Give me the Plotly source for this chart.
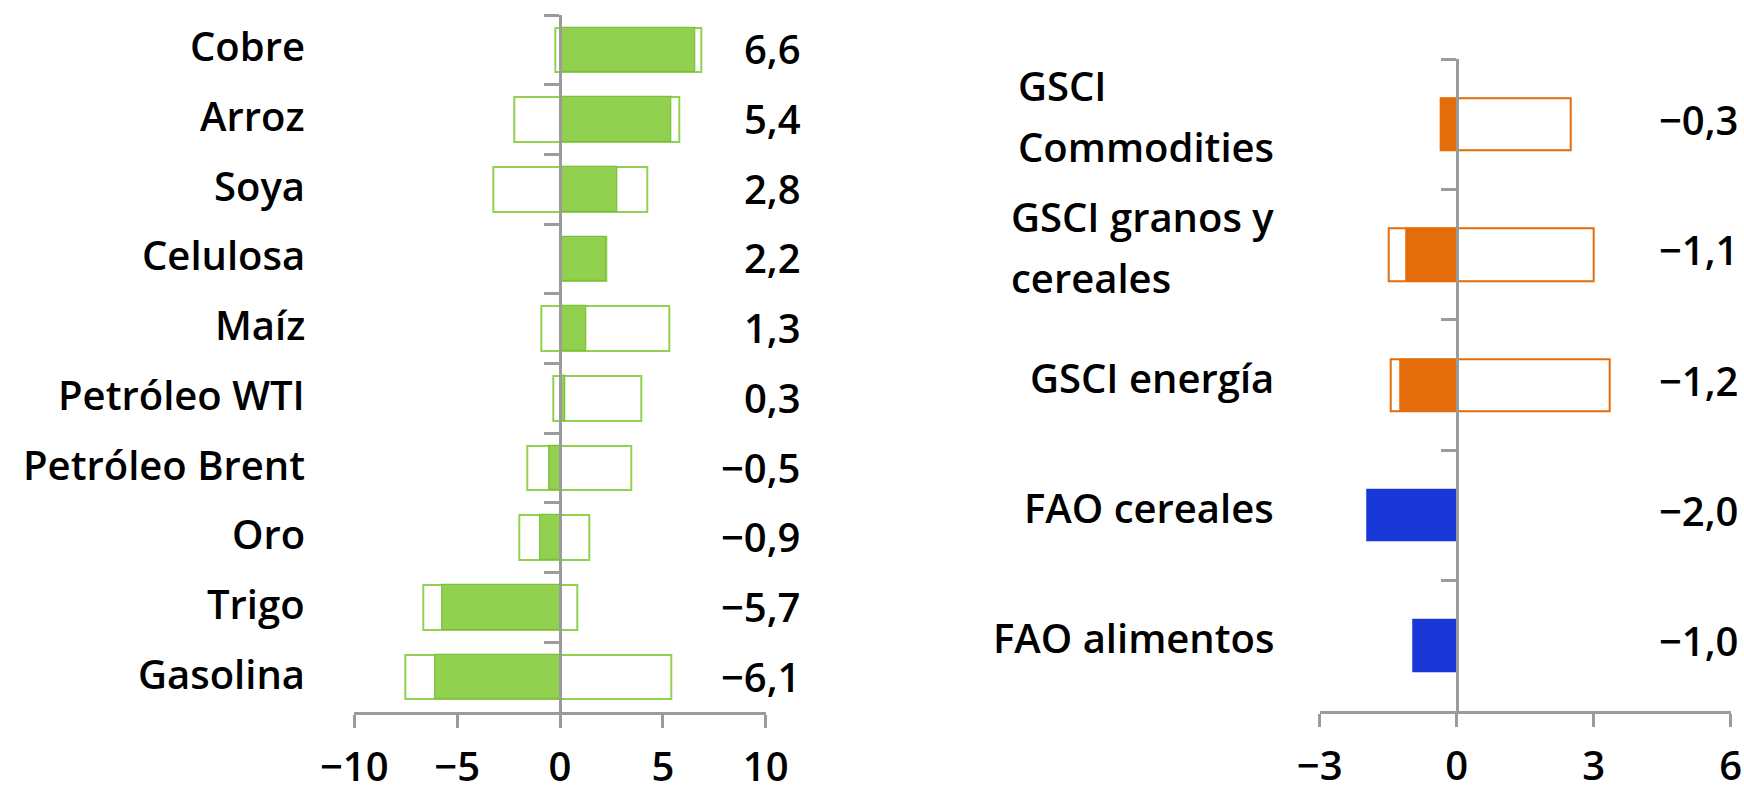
import plotly.graph_objects as go

# ---------------- data ----------------
left_categories = ["Cobre", "Arroz", "Soya", "Celulosa", "Maíz", "Petróleo WTI",
                   "Petróleo Brent", "Oro", "Trigo", "Gasolina"]
left_values = [6.6, 5.4, 2.8, 2.24, 1.27, 0.28, -0.53, -0.94, -5.74, -6.08]
left_min = [-0.25, -2.2, -3.25, 0.0, -0.9, -0.35, -1.6, -2.0, -6.65, -7.5]
left_max = [6.85, 5.8, 4.25, 2.24, 5.3, 3.95, 3.45, 1.4, 0.85, 5.4]
left_ticks = [-10, -5, 0, 5, 10]

right_categories = ["GSCI<br>Commodities", "GSCI granos y<br>cereales", "GSCI energía",
                    "FAO cereales", "FAO alimentos"]
right_values = [-0.34, -1.11, -1.24, -1.98, -0.97]
right_min = [-0.34, -1.5, -1.45, None, None]
right_max = [2.5, 3.0, 3.35, None, None]
right_groups = ["GSCI", "GSCI", "GSCI", "FAO", "FAO"]
right_ticks = [-3, 0, 3, 6]

GREEN = "#92D050"
GREEN_DARK = "#7CBF3E"
ORANGE = "#E46C0A"
BLUE = "#1A38D8"
AXIS = "#9B9B9B"
FONT = "Open Sans"
FS = 40

W, H = 1744, 792


def fmt(v):
    return f"{v:.1f}".replace(".", ",").replace("-", "\u2212")


fig = go.Figure()

lx_dom = [354.3 / W, 765.7 / W]
ly_dom = [(H - 712) / H, (H - 15) / H]
rx_dom = [1319.7 / W, 1730.7 / W]
ry_dom = [(H - 711) / H, (H - 59.3) / H]

fig.add_trace(go.Bar(
    y=left_categories,
    x=[mx - mn for mn, mx in zip(left_min, left_max)],
    base=left_min, orientation="h", width=0.64,
    marker=dict(color="white", line=dict(color=GREEN, width=2)),
    xaxis="x", yaxis="y", showlegend=False, hoverinfo="skip"))
fig.add_trace(go.Bar(
    y=left_categories, x=left_values, orientation="h", width=0.64,
    marker=dict(color=GREEN, line=dict(color=GREEN_DARK, width=1.2)),
    xaxis="x", yaxis="y", showlegend=False))

rcolors = [ORANGE if g == "GSCI" else BLUE for g in right_groups]
fig.add_trace(go.Bar(
    y=right_categories,
    x=[(mx - mn) if mn is not None else None for mn, mx in zip(right_min, right_max)],
    base=right_min, orientation="h", width=0.4,
    marker=dict(color="white", line=dict(color=rcolors, width=2)),
    xaxis="x2", yaxis="y2", showlegend=False, hoverinfo="skip"))
fig.add_trace(go.Bar(
    y=right_categories, x=right_values, orientation="h", width=0.4,
    marker=dict(color=rcolors, line=dict(color=rcolors, width=0.5)),
    xaxis="x2", yaxis="y2", showlegend=False))


def zero_pos(dom, rng):
    return dom[0] + (0 - rng[0]) / (rng[1] - rng[0]) * (dom[1] - dom[0])


lrng = [-10, 10]
rrng = [-3, 6]
line_common = dict(showline=True, linecolor=AXIS, linewidth=3, ticks="outside",
                   tickcolor=AXIS, tickwidth=3, showgrid=False, zeroline=False)
tickfont = dict(family=FONT, size=FS, color="black", weight=600)

fig.update_layout(
    width=W, height=H, margin=dict(l=0, r=0, t=0, b=0, autoexpand=False),
    paper_bgcolor="white", plot_bgcolor="rgba(0,0,0,0)",
    barmode="overlay", bargap=0,
    font=dict(family=FONT, size=FS, color="black"),
    xaxis=dict(domain=lx_dom, range=lrng, tickvals=left_ticks, ticklen=13,
               ticklabelstandoff=5, anchor="y", tickfont=tickfont, **line_common),
    yaxis=dict(domain=ly_dom, type="category", categoryorder="array",
               categoryarray=left_categories, range=[len(left_categories) - 0.5, -0.5],
               anchor="free", position=zero_pos(lx_dom, lrng), tickson="boundaries",
               ticklen=15, showticklabels=False, **line_common),
    xaxis2=dict(domain=rx_dom, range=rrng, tickvals=right_ticks, ticklen=13,
                ticklabelstandoff=5, anchor="y2", tickfont=tickfont, **line_common),
    yaxis2=dict(domain=ry_dom, type="category", categoryorder="array",
                categoryarray=right_categories, range=[len(right_categories) - 0.5, -0.5],
                anchor="free", position=zero_pos(rx_dom, rrng), tickson="boundaries",
                ticklen=15, showticklabels=False, **line_common),
)

ann = []
for c, v in zip(left_categories, left_values):
    ann.append(dict(x=307 / W, xref="paper", y=c, yref="y", text=c, showarrow=False,
                    xanchor="right", yanchor="middle", yshift=4,
                    font=dict(family=FONT, size=FS, color="black", weight=600)))
    ann.append(dict(x=803 / W, xref="paper", y=c, yref="y", text=fmt(v), showarrow=False,
                    xanchor="right", yanchor="middle", yshift=1,
                    font=dict(family=FONT, size=FS, color="black", weight=600)))
for c, v in zip(right_categories, right_values):
    multi = "<br>" in c
    txt = c
    size = FS
    if multi:
        txt = "<br>".join(f"<span style='font-size:{FS}px'>{p}</span>" for p in c.split("<br>"))
        size = 47
    ann.append(dict(x=1276 / W, xref="paper", y=c, yref="y2", text=txt, showarrow=False,
                    xanchor="right", yanchor="middle", align="left", yshift=8,
                    font=dict(family=FONT, size=size, color="black", weight=600)))
    ann.append(dict(x=1741 / W, xref="paper", y=c, yref="y2", text=fmt(v), showarrow=False,
                    xanchor="right", yanchor="middle", yshift=5,
                    font=dict(family=FONT, size=FS, color="black", weight=600)))
fig.update_layout(annotations=ann)

fig.write_html("out.html", config={"displayModeBar": False},
               post_script="document.body.style.margin='0px';document.body.style.overflow='hidden';")
